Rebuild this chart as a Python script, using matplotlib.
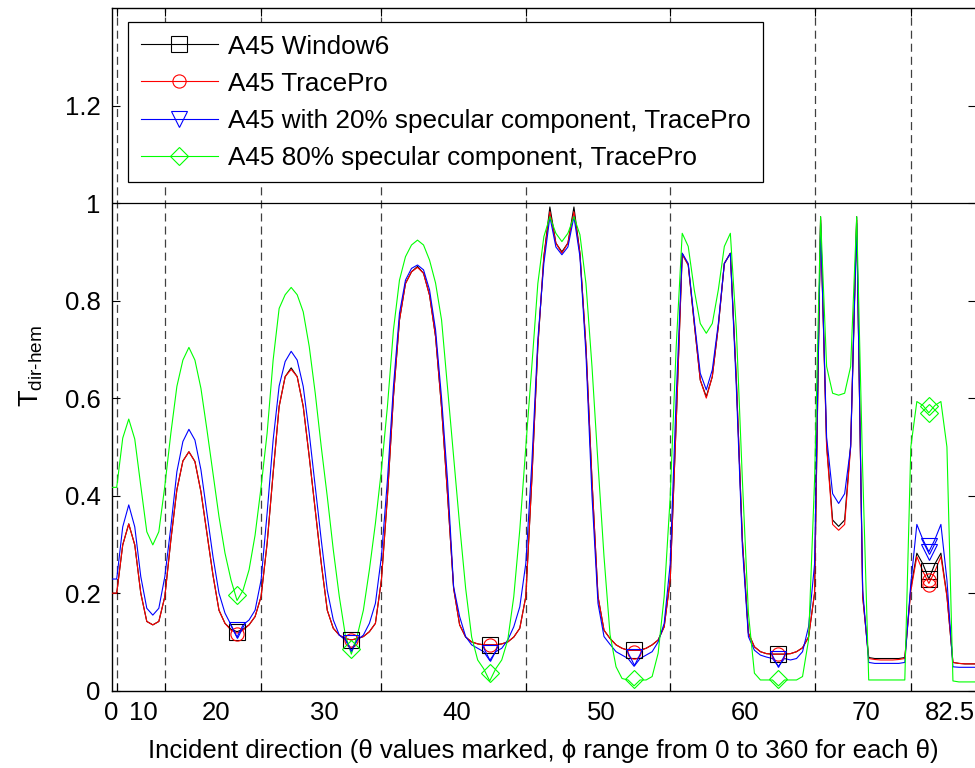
import numpy as np
import matplotlib
matplotlib.use("Agg")
import matplotlib.pyplot as plt
from matplotlib.lines import Line2D

plt.rcParams['font.family'] = ['Liberation Sans', 'DejaVu Sans']
plt.rcParams['mathtext.fontset'] = 'custom'
plt.rcParams['mathtext.rm'] = 'Liberation Sans'
plt.rcParams['lines.scale_dashes'] = False

# ---------------- data ----------------
idx = list(range(146))

window6 = [
    0.200, 0.200, 0.299, 0.342, 0.299, 0.200, 0.142, 0.135, 0.142, 0.193,
    0.309, 0.412, 0.471, 0.490, 0.470, 0.408, 0.323, 0.237, 0.165, 0.138,
    0.126, 0.121, 0.126, 0.135, 0.152, 0.193, 0.302, 0.446, 0.583, 0.644,
    0.662, 0.644, 0.583, 0.480, 0.371, 0.261, 0.165, 0.128, 0.114, 0.107,
    0.104, 0.107, 0.111, 0.121, 0.138, 0.227, 0.398, 0.603, 0.760, 0.835,
    0.859, 0.870, 0.856, 0.811, 0.726, 0.580, 0.400, 0.210, 0.135, 0.110,
    0.100, 0.096, 0.094, 0.094, 0.094, 0.096, 0.100, 0.110, 0.128, 0.193,
    0.432, 0.706, 0.890, 0.992, 0.918, 0.900, 0.918, 0.992, 0.897, 0.706,
    0.432, 0.193, 0.124, 0.107, 0.094, 0.087, 0.083, 0.083, 0.083, 0.087,
    0.094, 0.104, 0.131, 0.227, 0.550, 0.897, 0.873, 0.753, 0.637, 0.603,
    0.644, 0.747, 0.876, 0.897, 0.637, 0.309, 0.118, 0.090, 0.080, 0.076,
    0.075, 0.075, 0.075, 0.076, 0.080, 0.088, 0.110, 0.200, 0.972, 0.505,
    0.350, 0.337, 0.350, 0.505, 0.972, 0.193, 0.068, 0.066, 0.066, 0.066,
    0.066, 0.066, 0.068, 0.210, 0.282, 0.260, 0.229, 0.260, 0.282, 0.195,
    0.058, 0.056, 0.055, 0.055, 0.055, 0.055]

tracepro = [
    0.200, 0.200, 0.299, 0.342, 0.299, 0.200, 0.142, 0.135, 0.142, 0.193,
    0.309, 0.412, 0.471, 0.490, 0.470, 0.408, 0.323, 0.237, 0.165, 0.138,
    0.124, 0.118, 0.124, 0.135, 0.152, 0.193, 0.302, 0.446, 0.583, 0.644,
    0.659, 0.644, 0.583, 0.480, 0.371, 0.261, 0.165, 0.128, 0.114, 0.107,
    0.104, 0.107, 0.111, 0.121, 0.138, 0.227, 0.398, 0.603, 0.760, 0.835,
    0.859, 0.868, 0.856, 0.811, 0.726, 0.580, 0.400, 0.210, 0.135, 0.110,
    0.100, 0.096, 0.094, 0.094, 0.094, 0.096, 0.100, 0.110, 0.128, 0.193,
    0.432, 0.706, 0.890, 0.982, 0.918, 0.897, 0.918, 0.982, 0.897, 0.706,
    0.432, 0.193, 0.124, 0.107, 0.094, 0.087, 0.083, 0.083, 0.083, 0.087,
    0.094, 0.104, 0.131, 0.227, 0.550, 0.894, 0.873, 0.753, 0.637, 0.600,
    0.644, 0.747, 0.876, 0.897, 0.637, 0.309, 0.118, 0.090, 0.080, 0.076,
    0.075, 0.075, 0.075, 0.076, 0.080, 0.088, 0.110, 0.200, 0.965, 0.500,
    0.341, 0.329, 0.341, 0.500, 0.965, 0.193, 0.066, 0.064, 0.063, 0.063,
    0.063, 0.064, 0.066, 0.205, 0.275, 0.245, 0.220, 0.245, 0.275, 0.193,
    0.058, 0.056, 0.055, 0.055, 0.055, 0.055]

spec20 = [
    0.229, 0.229, 0.336, 0.381, 0.336, 0.234, 0.169, 0.155, 0.169, 0.234,
    0.336, 0.449, 0.511, 0.536, 0.514, 0.453, 0.364, 0.275, 0.200, 0.159,
    0.135, 0.110, 0.135, 0.145, 0.165, 0.227, 0.364, 0.514, 0.625, 0.675,
    0.696, 0.678, 0.624, 0.528, 0.418, 0.309, 0.206, 0.145, 0.114, 0.104,
    0.085, 0.104, 0.114, 0.138, 0.179, 0.275, 0.432, 0.624, 0.774, 0.842,
    0.866, 0.873, 0.863, 0.822, 0.740, 0.600, 0.430, 0.213, 0.152, 0.111,
    0.094, 0.087, 0.080, 0.062, 0.080, 0.087, 0.104, 0.131, 0.172, 0.261,
    0.466, 0.720, 0.876, 0.972, 0.910, 0.894, 0.910, 0.972, 0.890, 0.690,
    0.400, 0.179, 0.111, 0.095, 0.080, 0.073, 0.066, 0.050, 0.066, 0.073,
    0.080, 0.100, 0.138, 0.260, 0.603, 0.897, 0.876, 0.760, 0.651, 0.617,
    0.658, 0.753, 0.876, 0.897, 0.620, 0.295, 0.111, 0.083, 0.073, 0.069,
    0.066, 0.050, 0.066, 0.063, 0.066, 0.080, 0.131, 0.260, 0.958, 0.520,
    0.404, 0.384, 0.404, 0.500, 0.958, 0.206, 0.058, 0.056, 0.056, 0.056,
    0.056, 0.056, 0.058, 0.220, 0.341, 0.310, 0.285, 0.310, 0.341, 0.227,
    0.049, 0.048, 0.048, 0.048, 0.048, 0.048]

spec80 = [
    0.417, 0.417, 0.518, 0.557, 0.516, 0.420, 0.326, 0.299, 0.326, 0.420,
    0.528, 0.624, 0.678, 0.704, 0.678, 0.620, 0.535, 0.446, 0.357, 0.282,
    0.227, 0.185, 0.206, 0.248, 0.319, 0.418, 0.528, 0.678, 0.784, 0.812,
    0.827, 0.812, 0.777, 0.706, 0.610, 0.500, 0.398, 0.289, 0.193, 0.114,
    0.075, 0.114, 0.165, 0.248, 0.343, 0.453, 0.583, 0.740, 0.842, 0.890,
    0.914, 0.924, 0.914, 0.883, 0.836, 0.760, 0.620, 0.480, 0.340, 0.210,
    0.110, 0.063, 0.045, 0.020, 0.045, 0.063, 0.104, 0.193, 0.330, 0.500,
    0.665, 0.835, 0.931, 0.972, 0.938, 0.921, 0.938, 0.972, 0.935, 0.835,
    0.665, 0.466, 0.275, 0.115, 0.049, 0.025, 0.022, 0.010, 0.022, 0.022,
    0.029, 0.077, 0.193, 0.397, 0.706, 0.938, 0.911, 0.822, 0.753, 0.733,
    0.753, 0.822, 0.911, 0.938, 0.740, 0.432, 0.159, 0.036, 0.022, 0.022,
    0.022, 0.010, 0.022, 0.022, 0.022, 0.029, 0.104, 0.432, 0.972, 0.665,
    0.610, 0.606, 0.610, 0.665, 0.972, 0.450, 0.022, 0.022, 0.022, 0.022,
    0.022, 0.022, 0.022, 0.500, 0.593, 0.585, 0.570, 0.585, 0.593, 0.500,
    0.020, 0.018, 0.018, 0.018, 0.018, 0.018]

# marker positions (index) and marker values
marker_idx = [21, 40, 63, 87, 111, 136, 136]
window6_mk = [0.121, 0.104, 0.094, 0.083, 0.076, 0.245, 0.229]
tracepro_mk = [0.116, 0.104, 0.094, 0.080, 0.076, 0.227, 0.217]
spec20_mk = [0.125, 0.098, 0.077, 0.070, 0.066, 0.297, 0.285]
spec80_mk = [0.196, 0.085, 0.036, 0.024, 0.024, 0.584, 0.569]

band_edges = [1, 9, 25, 45, 69, 93, 117, 133]
theta_labels = ['0', '10', '20', '30', '40', '50', '60', '70', '82.5']
theta_pos = [0, 5.5, 17.5, 35.5, 57.5, 81.5, 105.5, 125.5, 139.5]

labels = ['A45 Window6', 'A45 TracePro',
          'A45 with 20% specular component, TracePro',
          'A45 80% specular component, TracePro']

# ---------------- figure ----------------
FS = 18.5
W, H = 975, 768
fig = plt.figure(figsize=(W / 100, H / 100), dpi=100)
left_px, right_px, top_px, bot_px = 111.6, 975.8, 8.0, 690.7
ax = fig.add_axes([left_px / W, 1 - bot_px / H,
                   (right_px - left_px) / W, (bot_px - top_px) / H])

ax.set_xlim(0.15, 143.8)
ax.set_ylim(0, 1.4)

for e in band_edges:
    ax.axvline(e, color='#404040', lw=0.9, ls=(0, (5.8, 3.6)), zorder=1)
ax.axhline(1.0, color='black', lw=0.9, zorder=1)

series = [(window6, window6_mk, 'black', 's', 12),
          (tracepro, tracepro_mk, 'red', 'o', 9.5),
          (spec20, spec20_mk, 'blue', 'v', 11.5),
          (spec80, spec80_mk, '#00ff00', 'D', 9.0)]

handles = []
for (vals, mk, col, m, ms), lab in zip(series, labels):
    ax.plot(idx, vals, color=col, lw=0.8, zorder=3)
    ax.plot(marker_idx, mk, ls='none', marker=m, ms=ms, mfc='none',
            mec=col, mew=0.8, zorder=4)
    handles.append(Line2D([], [], color=col, lw=0.8, marker=m, ms=ms,
                          mfc='none', mec=col, mew=0.8))

# ticks
ax.set_yticks([0, 0.2, 0.4, 0.6, 0.8, 1.0, 1.2])
ax.set_yticklabels(['0', '0.2', '0.4', '0.6', '0.8', '1', '1.2'])
ax.set_xticks(band_edges)
ax.set_xticklabels([])
ax.tick_params(axis='both', direction='in', length=5.5, width=0.8,
               top=True, right=True, labelsize=FS, pad=8)
for sp in ax.spines.values():
    sp.set_linewidth(1.0)

for lab, xp in zip(theta_labels, theta_pos):
    ax.annotate(lab, xy=(xp, 0), xycoords=('data', 'axes fraction'),
                xytext=(0, -10), textcoords='offset pixels',
                ha='center', va='top', fontsize=FS, annotation_clip=False)

ax.set_xlabel('Incident direction (\u03b8 values marked, \u03d5 range from 0 to 360 for each \u03b8)',
              fontsize=FS, labelpad=27)
ax.set_ylabel(r'$\mathregular{T}_{\text{dir-hem}}$', fontsize=FS + 1)
ax.yaxis.set_label_coords(-0.077, 0.475)

leg = ax.legend(handles, labels, loc='upper left',
                bbox_to_anchor=(0.019, 0.9795), borderaxespad=0,
                fontsize=18.8, frameon=True, fancybox=False, framealpha=1,
                edgecolor='black', handlelength=2.95, handletextpad=0.4,
                borderpad=0.48, labelspacing=0.5)
leg.get_frame().set_linewidth(0.9)

fig.savefig('out.png', dpi=100)
